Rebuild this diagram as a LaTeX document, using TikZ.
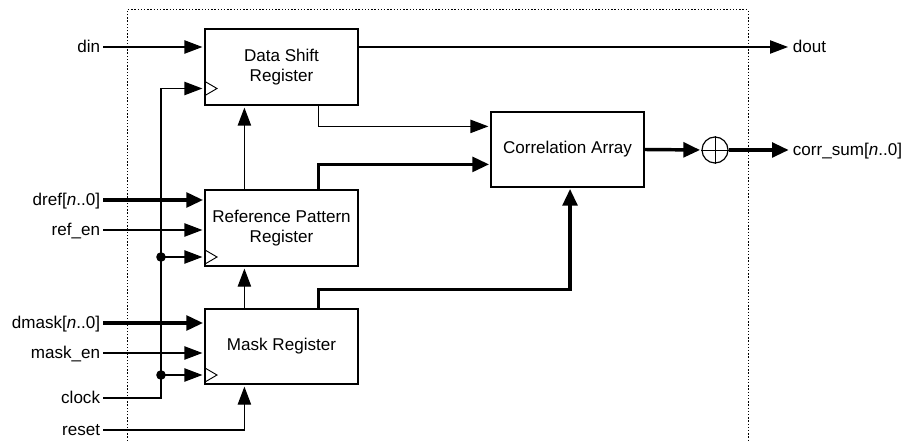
\documentclass[tikz,border=0pt]{standalone}
\usepackage{fontspec}
\setmainfont{Liberation Sans}
\usetikzlibrary{arrows.meta}
\begin{document}
\begin{tikzpicture}[x=0.75pt,y=-0.75pt,
  font=\fontsize{12.8}{15.5}\selectfont,
  wire/.style={line width=0.9pt,shorten >=1.5pt,-{Triangle[length=13.5pt,width=10pt]}},
  buswire/.style={line width=2.6pt,shorten >=1pt,-{Triangle[length=12.5pt,width=11pt]}},
  block/.style={draw,line width=0.9pt,minimum width=114.75pt,minimum height=57pt,align=center,inner sep=0pt},
  clk/.style={line width=0.7pt},
  lbl/.style={inner sep=2pt,text height=9.2pt,text depth=1.5pt},
  frame/.style={line width=0.75pt,dash pattern=on 1.1pt off 1.3pt}]
\useasboundingbox (0,0) rectangle (905,441);
% frame
\draw[frame] (127,441) -- (127,10) -- (748,10) -- (748,441);
% blocks
\node[block] (dsr) at (281.5,67) {Data Shift\\Register};
\node[block] (rpr) at (281.5,228) {Reference Pattern\\Register};
\node[block,minimum height=56.25pt] (msk) at (281.5,346.5) {Mask Register};
\node[block,minimum height=56.25pt] (corr) at (567.5,149.5) {Correlation Array};
\node[draw,circle,line width=0.9pt,minimum size=19.5pt,inner sep=0pt] (xor) at (715,150) {};
\draw[line width=0.7pt] (xor.north) -- (xor.south) (xor.west) -- (xor.east);
% clock marks
\draw[clk] (205,81.5) -- (217,88.5) -- (205,95.5);
\draw[clk] (205,250) -- (217,257) -- (205,264);
\draw[clk] (205,368) -- (217,375) -- (205,382);
% labels
\node[lbl,anchor=east] (din) at (103,47) {din};
\node[lbl,anchor=east] (dref) at (103,200) {dref[\textit{n}..0]};
\node[lbl,anchor=east] (refen) at (103,230) {ref\_en};
\node[lbl,anchor=east] (dmask) at (103,323) {dmask[\textit{n}..0]};
\node[lbl,anchor=east] (masken) at (103,353) {mask\_en};
\node[lbl,anchor=east] (clock) at (103,398) {clock};
\node[lbl,anchor=east] (reset) at (103,430) {reset};
\node[lbl,anchor=west] (dout) at (790,47) {dout};
\node[lbl,anchor=west] (corrsum) at (790,150) {corr\_sum[\textit{n}..0]};
% coordinates of clock bus
\coordinate (busTop) at (161,88.5);
\coordinate (j1) at (161,257);
\coordinate (j2) at (161,375);
% inputs
\draw[wire] (din.east) -- (din.east -| dsr.west);
\draw[buswire] (dref.east) -- (dref.east -| rpr.west);
\draw[wire] (refen.east) -- (refen.east -| rpr.west);
\draw[buswire] (dmask.east) -- (dmask.east -| msk.west);
\draw[wire] (masken.east) -- (masken.east -| msk.west);
\draw[wire] (clock.east) -| (busTop) -- (busTop -| dsr.west);
\draw[wire] (j1) -- (j1 -| rpr.west);
\draw[wire] (j2) -- (j2 -| msk.west);
\fill (j1) circle[radius=3.6pt];
\fill (j2) circle[radius=3.6pt];
\draw[wire] (reset.east) -| ([xshift=30pt]msk.south west);
% internal
\draw[wire] ([xshift=30pt]msk.north west) -- ([xshift=30pt]rpr.south west);
\draw[wire] ([xshift=30pt]rpr.north west) -- ([xshift=30pt]dsr.south west);
\draw[wire] ([xshift=85.5pt]dsr.south west) |- ([yshift=-11.25pt]corr.north west);
\draw[buswire] ([xshift=85.5pt]rpr.north west) |- ([yshift=-39.75pt]corr.north west);
\draw[buswire] ([xshift=85.5pt]msk.north west) -- ++(0,-19) -| ([xshift=1.9pt]corr.south);
% outputs
\draw[wire] (dout.west -| dsr.east) -- (dout.west);
\draw[buswire] (corr.east) -- (xor.west);
\draw[buswire] (xor.east) -- (corrsum.west);
\end{tikzpicture}
\end{document}
